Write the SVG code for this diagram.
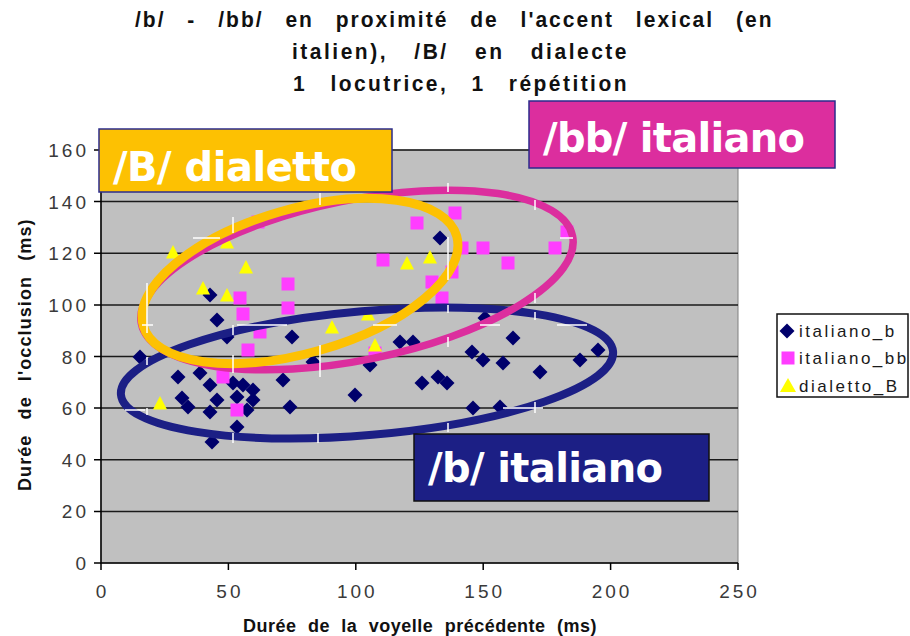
<svg xmlns="http://www.w3.org/2000/svg" xmlns:xlink="http://www.w3.org/1999/xlink" width="910" height="636" viewBox="0 0 910 636">
<style>
.title{font-family:"Liberation Sans",Arial,sans-serif;font-weight:bold;font-size:21px;fill:#111;letter-spacing:1.5px}
.axt{font-family:"Liberation Sans",Arial,sans-serif;font-weight:bold;font-size:18px;fill:#111;letter-spacing:0.5px}
.tick{font-family:"Liberation Sans",Arial,sans-serif;font-size:19px;fill:#3a3a3a;letter-spacing:3px}
.leg{font-family:"Liberation Sans",Arial,sans-serif;font-size:17px;fill:#1a1a1a;letter-spacing:2.5px}
.grid{stroke:#1a1a1a;stroke-width:1.5}
.axis{stroke:#000;stroke-width:1.5;fill:none}
.box text{font-family:"DejaVu Sans",Verdana,sans-serif;font-weight:bold;font-size:40px;fill:#fff}
.ell{fill:none}
.wm{stroke:#fff;stroke-width:1.5}
</style>
<defs>
<path id="dia" d="M0 -7.5L7.5 0L0 7.5L-7.5 0Z" fill="#00006B"/>
<rect id="sq" x="-6.5" y="-6.5" width="13" height="13" fill="#FF3DFF"/>
<path id="tri" d="M0 -7L7 6.5L-7 6.5Z" fill="#FFFF00"/>
</defs>
<rect width="910" height="636" fill="#fff"/>

<g id="title">
<text class="title" transform="translate(135 27) scale(1 1.08)" x="0" y="0" textLength="638" lengthAdjust="spacing" word-spacing="14">/b/ - /bb/ en proximité de l'accent lexical (en</text>
<text class="title" transform="translate(292 59) scale(1 1.08)" x="0" y="0" textLength="336" lengthAdjust="spacing" word-spacing="18">italien), /B/ en dialecte</text>
<text class="title" transform="translate(293 91) scale(1 1.08)" x="0" y="0" textLength="335" lengthAdjust="spacing" word-spacing="15">1 locutrice, 1 répétition</text>
</g>

<g id="plot">
<rect x="101" y="150" width="637" height="413" fill="#C0C0C0" stroke="#808080" stroke-width="1"/>
<g class="grid">
<line x1="101" y1="150" x2="738" y2="150"/>
<line x1="101" y1="201.6" x2="738" y2="201.6"/>
<line x1="101" y1="253.3" x2="738" y2="253.3"/>
<line x1="101" y1="304.9" x2="738" y2="304.9"/>
<line x1="101" y1="356.5" x2="738" y2="356.5"/>
<line x1="101" y1="408.1" x2="738" y2="408.1"/>
<line x1="101" y1="459.8" x2="738" y2="459.8"/>
<line x1="101" y1="511.4" x2="738" y2="511.4"/>
</g>
<g class="axis">
<path d="M101 150V563H738"/>
<path d="M94 150H101M94 201.6H101M94 253.3H101M94 304.9H101M94 356.5H101M94 408.1H101M94 459.8H101M94 511.4H101M94 563H101"/>
<path d="M101 563V570M228.4 563V570M355.8 563V570M483.2 563V570M610.6 563V570M738 563V570"/>
</g>
<g class="tick" text-anchor="end">
<text x="89" y="157">160</text>
<text x="89" y="208.6">140</text>
<text x="89" y="260.3">120</text>
<text x="89" y="311.9">100</text>
<text x="89" y="363.5">80</text>
<text x="89" y="415.1">60</text>
<text x="89" y="466.8">40</text>
<text x="89" y="518.4">20</text>
<text x="89" y="570">0</text>
</g>
<g class="tick" text-anchor="middle">
<text x="102.5" y="598">0</text>
<text x="229.9" y="598">50</text>
<text x="357.3" y="598">100</text>
<text x="484.7" y="598">150</text>
<text x="612.1" y="598">200</text>
<text x="739.5" y="598">250</text>
</g>
<text class="axt" x="243" y="632" textLength="354" lengthAdjust="spacing" word-spacing="6">Durée de la voyelle précédente (ms)</text>
<text class="axt" transform="translate(31 491) rotate(-90)" x="0" y="0" textLength="272" lengthAdjust="spacing" word-spacing="9" letter-spacing="1">Durée de l'occlusion (ms)</text>
</g>

<g id="series-italiano_b">
<use href="#dia" x="140" y="357"/><use href="#dia" x="178" y="377"/><use href="#dia" x="182" y="398"/>
<use href="#dia" x="188" y="407"/><use href="#dia" x="200" y="373"/><use href="#dia" x="210" y="385"/>
<use href="#dia" x="210" y="412"/><use href="#dia" x="212" y="442"/><use href="#dia" x="210" y="295"/>
<use href="#dia" x="217" y="320"/><use href="#dia" x="227" y="337"/><use href="#dia" x="217" y="400"/>
<use href="#dia" x="233" y="383"/><use href="#dia" x="243" y="385"/><use href="#dia" x="253" y="390"/>
<use href="#dia" x="237" y="397"/><use href="#dia" x="253" y="400"/><use href="#dia" x="247" y="410"/>
<use href="#dia" x="237" y="427"/><use href="#dia" x="292" y="337"/><use href="#dia" x="283" y="380"/>
<use href="#dia" x="290" y="407"/><use href="#dia" x="313" y="362"/><use href="#dia" x="355" y="395"/>
<use href="#dia" x="400" y="342"/><use href="#dia" x="413" y="342"/><use href="#dia" x="370" y="365"/>
<use href="#dia" x="422" y="383"/><use href="#dia" x="438" y="377"/><use href="#dia" x="447" y="383"/>
<use href="#dia" x="472" y="352"/><use href="#dia" x="483" y="360"/><use href="#dia" x="503" y="363"/>
<use href="#dia" x="513" y="338"/><use href="#dia" x="485" y="318"/><use href="#dia" x="473" y="408"/>
<use href="#dia" x="500" y="407"/><use href="#dia" x="540" y="372"/><use href="#dia" x="580" y="360"/>
<use href="#dia" x="598" y="350"/><use href="#dia" x="440" y="238"/>
</g>
<g id="series-italiano_bb">
<use href="#sq" x="240" y="298"/><use href="#sq" x="243" y="314"/><use href="#sq" x="288" y="284"/>
<use href="#sq" x="288" y="308"/><use href="#sq" x="260" y="332"/><use href="#sq" x="248" y="350"/>
<use href="#sq" x="258" y="222"/><use href="#sq" x="223" y="377"/><use href="#sq" x="237" y="410"/>
<use href="#sq" x="455" y="213"/><use href="#sq" x="417" y="223"/><use href="#sq" x="462" y="248"/>
<use href="#sq" x="483" y="248"/><use href="#sq" x="555" y="248"/><use href="#sq" x="567" y="232"/>
<use href="#sq" x="383" y="260"/><use href="#sq" x="508" y="263"/><use href="#sq" x="452" y="272"/>
<use href="#sq" x="432" y="282"/><use href="#sq" x="442" y="298"/><use href="#sq" x="375" y="353"/>
</g>
<g id="series-dialetto_B">
<use href="#tri" x="173" y="252"/><use href="#tri" x="227" y="242"/><use href="#tri" x="246" y="267"/>
<use href="#tri" x="203" y="288"/><use href="#tri" x="227" y="295"/><use href="#tri" x="332" y="327"/>
<use href="#tri" x="368" y="314"/><use href="#tri" x="375" y="345"/><use href="#tri" x="407" y="263"/>
<use href="#tri" x="430" y="257"/><use href="#tri" x="160" y="403"/>
</g>

<g id="connectors">
<ellipse class="ell" cx="367" cy="373" rx="247" ry="62" transform="rotate(-5 367 373)" stroke="#1C1F85" stroke-width="8"/>
<ellipse class="ell" cx="357" cy="280" rx="220" ry="80" transform="rotate(-11.5 357 280)" stroke="#DC2E9E" stroke-width="7.5"/>
<ellipse class="ell" cx="300" cy="281" rx="163" ry="72" transform="rotate(-16 300 281)" stroke="#FDC102" stroke-width="9"/>
<g class="wm">
<line x1="233" y1="217" x2="233" y2="233"/><line x1="193" y1="238" x2="220" y2="238"/>
<line x1="147" y1="283" x2="147" y2="333"/><line x1="142" y1="325" x2="153" y2="325"/>
<line x1="233" y1="325" x2="233" y2="335"/><line x1="233" y1="355" x2="233" y2="373"/>
<line x1="320" y1="193" x2="320" y2="205"/><line x1="320" y1="345" x2="320" y2="377"/>
<line x1="237" y1="325" x2="287" y2="325"/><line x1="147" y1="357" x2="147" y2="365"/>
<line x1="448" y1="183" x2="448" y2="192"/><line x1="448" y1="237" x2="448" y2="280"/>
<line x1="448" y1="305" x2="448" y2="313"/><line x1="448" y1="337" x2="448" y2="347"/>
<line x1="535" y1="200" x2="535" y2="210"/><line x1="535" y1="293" x2="535" y2="303"/>
<line x1="535" y1="312" x2="535" y2="320"/><line x1="560" y1="238" x2="573" y2="238"/>
<line x1="373" y1="325" x2="397" y2="325"/><line x1="480" y1="325" x2="500" y2="325"/>
<line x1="557" y1="325" x2="587" y2="325"/><line x1="448" y1="423" x2="448" y2="432"/>
<line x1="503" y1="408" x2="543" y2="408"/><line x1="535" y1="402" x2="535" y2="413"/>
<line x1="147" y1="408" x2="147" y2="415"/><line x1="125" y1="410" x2="145" y2="410"/>
<line x1="233" y1="433" x2="233" y2="443"/><line x1="318" y1="433" x2="318" y2="443"/>
</g>
</g>

<g id="label-dialetto" class="box">
<rect x="99" y="129" width="293" height="63" fill="#FDC102" stroke="#2B2B8C" stroke-width="1.5"/>
<text x="113" y="181" textLength="244" lengthAdjust="spacing">/B/ dialetto</text>
</g>
<g id="label-bb-italiano" class="box">
<rect x="529" y="101" width="306" height="67" fill="#DC2E9E" stroke="#2B2B8C" stroke-width="1.5"/>
<text x="543" y="152" textLength="262" lengthAdjust="spacing">/bb/ italiano</text>
</g>
<g id="label-b-italiano" class="box">
<rect x="414" y="434" width="295" height="67" fill="#1C1F85" stroke="#111" stroke-width="1.5"/>
<text x="428" y="482" textLength="235" lengthAdjust="spacing">/b/ italiano</text>
</g>

<g id="legend">
<rect x="777" y="314" width="131" height="83" fill="#fff" stroke="#111" stroke-width="1.5"/>
<use href="#dia" x="787" y="331"/>
<rect x="781.5" y="351.5" width="13" height="13" fill="#FF3DFF"/>
<path d="M788 378L796 392L780 392Z" fill="#FFFF00"/>
<text class="leg" x="799" y="337">italiano_b</text>
<text class="leg" x="799" y="364">italiano_bb</text>
<text class="leg" x="799" y="392">dialetto_B</text>
</g>
</svg>
